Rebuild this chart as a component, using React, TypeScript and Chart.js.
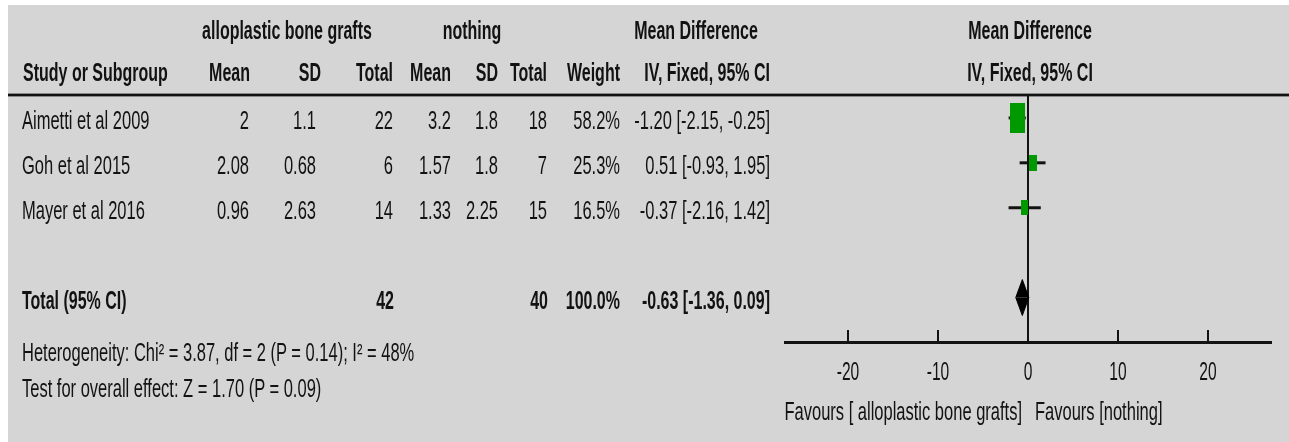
import React, { useEffect, useRef, useState } from "react";
import { Chart, registerables } from "chart.js";

Chart.register(...registerables);

// ---------------- DATA ----------------
const studies = ["Aimetti et al 2009", "Goh et al 2015", "Mayer et al 2016"];
const expMean = ["2", "2.08", "0.96"];
const expSD = ["1.1", "0.68", "2.63"];
const expTotal = [22, 6, 14];
const ctlMean = ["3.2", "1.57", "1.33"];
const ctlSD = ["1.8", "1.8", "2.25"];
const ctlTotal = [18, 7, 15];
const weights = [58.2, 25.3, 16.5];
const meanDiff = [-1.2, 0.51, -0.37];
const ciLow = [-2.15, -0.93, -2.16];
const ciHigh = [-0.25, 1.95, 1.42];

const totalLabel = "Total (95% CI)";
const totalExp = 42;
const totalCtl = 40;
const totalWeight = 100.0;
const totalMD = -0.63;
const totalLow = -1.36;
const totalHigh = 0.09;

const heterogeneityText = "Heterogeneity: Chi\u00b2 = 3.87, df = 2 (P = 0.14); I\u00b2 = 48%";
const overallText = "Test for overall effect: Z = 1.70 (P = 0.09)";

const xTickValues = [-20, -10, 0, 10, 20];
const favoursLeft = "Favours [ alloplastic bone grafts]";
const favoursRight = "Favours [nothing]";

const expGroup = "alloplastic bone grafts";
const ctlGroup = "nothing";

// ---------------- STYLE ----------------
const W = 1289;
const H = 442;
const BG = "#d5d5d5";
const INK = "#121212";
const GREEN = "#009a00";
const FONT = '"Liberation Sans", Arial, Helvetica, sans-serif';
const FS = 25;
const SX_REG = 0.66;
const SX_BOLD = 0.64;
const BOX_W = [15, 8, 7];
const BOX_H = [30, 16, 15];
const DIAMOND_HALF = 0.4;
const TOTAL_ROW = 4;
const TEXT_DY = 2;

const COL = {
  study: 22,
  expMean: 249,
  expSD: 316,
  expTotal: 393,
  ctlMean: 451,
  ctlSD: 498,
  ctlTotal: 547,
  weight: 620,
  md: 770,
};

const fmtCI = (m: number, lo: number, hi: number) =>
  `${m.toFixed(2)} [${lo.toFixed(2)}, ${hi.toFixed(2)}]`;

type Align = "left" | "right" | "center";

function Txt(props: {
  x: number;
  y: number;
  align?: Align;
  bold?: boolean;
  children: React.ReactNode;
}) {
  const { x, y, align = "left", bold = false, children } = props;
  const tx = align === "right" ? "-100%" : align === "center" ? "-50%" : "0";
  const origin =
    align === "right" ? "right center" : align === "center" ? "center center" : "left center";
  return (
    <div
      style={{
        position: "absolute",
        left: x,
        top: y,
        whiteSpace: "nowrap",
        fontFamily: FONT,
        fontSize: FS,
        lineHeight: `${FS}px`,
        fontWeight: bold ? 700 : 400,
        color: INK,
        transform: `translate(${tx}, -50%) scaleX(${bold ? SX_BOLD : SX_REG})`,
        transformOrigin: origin,
      }}
    >
      {children}
    </div>
  );
}

function makeBox(w: number, h: number): HTMLCanvasElement {
  const c = document.createElement("canvas");
  c.width = w;
  c.height = h;
  const g = c.getContext("2d")!;
  g.fillStyle = GREEN;
  g.fillRect(0, 0, w, h);
  return c;
}

const axisPlugin = {
  id: "forestAxis",
  afterDraw(chart: any) {
    const { ctx, chartArea, scales } = chart;
    const x = scales.x;
    const yAxis = chartArea.bottom;
    ctx.save();
    ctx.strokeStyle = INK;
    ctx.lineWidth = 2;
    ctx.fillStyle = INK;
    ctx.font = `26px ${FONT}`;
    ctx.textAlign = "center";
    ctx.textBaseline = "middle";
    x.ticks.forEach((t: any) => {
      const px = x.getPixelForValue(t.value);
      ctx.beginPath();
      ctx.moveTo(px, yAxis - 12);
      ctx.lineTo(px, yAxis);
      ctx.stroke();
      ctx.save();
      ctx.translate(px, yAxis + 31);
      ctx.scale(0.6, 1);
      ctx.fillText(String(t.value), 0, 0);
      ctx.restore();
    });
    ctx.restore();
  },
};

export default function App() {
  const canvasRef = useRef<HTMLCanvasElement | null>(null);
  const [geo, setGeo] = useState<{ rows: number[]; total: number; zero: number } | null>(null);

  useEffect(() => {
    const canvas = canvasRef.current;
    if (!canvas) return;

    const whiskers = studies.map((_, i) => ({
      type: "scatter" as const,
      data: [
        { x: ciLow[i], y: i },
        { x: ciHigh[i], y: i },
      ],
      showLine: true,
      borderColor: INK,
      borderWidth: 3,
      pointRadius: 0,
      order: 2,
    }));

    const boxes = {
      type: "scatter" as const,
      data: meanDiff.map((m, i) => ({ x: m, y: i })),
      pointStyle: studies.map((_, i) => makeBox(BOX_W[i], BOX_H[i])),
      pointRadius: 5,
      order: 0,
    };

    const diamondTop = {
      type: "scatter" as const,
      data: [
        { x: totalLow, y: TOTAL_ROW },
        { x: totalMD, y: TOTAL_ROW - DIAMOND_HALF },
        { x: totalHigh, y: TOTAL_ROW },
      ],
      showLine: true,
      borderColor: "#000",
      borderWidth: 1,
      backgroundColor: "#000",
      fill: { value: TOTAL_ROW },
      pointRadius: 0,
      tension: 0,
      order: 1,
    };
    const diamondBottom = {
      ...diamondTop,
      data: [
        { x: totalLow, y: TOTAL_ROW },
        { x: totalMD, y: TOTAL_ROW + DIAMOND_HALF },
        { x: totalHigh, y: TOTAL_ROW },
      ],
    };

    const chart = new Chart(canvas, {
      type: "scatter",
      data: { datasets: [...whiskers, boxes, diamondTop, diamondBottom] as any },
      options: {
        animation: false,
        responsive: false,
        devicePixelRatio: 1,
        layout: { padding: { left: 785, right: 18, top: 95, bottom: 0 } },
        plugins: { legend: { display: false }, tooltip: { enabled: false } },
        scales: {
          x: {
            type: "linear",
            position: "bottom",
            min: -27,
            max: 27,
            afterFit: (s: any) => {
              s.height = 100;
            },
            afterBuildTicks: (s: any) => {
              s.ticks = xTickValues.map((v) => ({ value: v }));
            },
            border: { display: true, color: INK, width: 3 },
            grid: {
              drawOnChartArea: true,
              drawTicks: false,
              lineWidth: 2,
              color: (c: any) =>
                c.tick && c.tick.value === 0 ? INK : "rgba(0,0,0,0)",
            },
            ticks: { display: false },
          },
          y: {
            type: "linear",
            display: false,
            reverse: true,
            min: -0.51,
            max: 4.99,
          },
        },
      } as any,
      plugins: [axisPlugin],
    });

    const ys = chart.scales.y;
    setGeo({
      rows: studies.map((_, i) => ys.getPixelForValue(i)),
      total: ys.getPixelForValue(TOTAL_ROW),
      zero: chart.scales.x.getPixelForValue(0),
    });

    return () => chart.destroy();
  }, []);

  const hdr1 = 30;
  const hdr2 = 72;

  return (
    <div
      style={{
        position: "absolute",
        left: 0,
        top: 0,
        width: W,
        height: H,
        background: "#fff",
        overflow: "hidden",
      }}
    >
      <div style={{ position: "absolute", left: 8, top: 5, right: 0, bottom: 0, background: BG }} />
      {/* header rule */}
      <div
        style={{
          position: "absolute",
          left: 8,
          right: 0,
          top: 93,
          height: 2,
          background: INK,
          borderTop: "1px solid #8a8a8a",
          borderBottom: "1px solid #8a8a8a",
        }}
      />
      <canvas
        ref={canvasRef}
        width={W}
        height={H}
        style={{ position: "absolute", left: 0, top: 0, width: W, height: H }}
      />

      {/* headers */}
      <Txt x={287} y={hdr1} align="center" bold>{expGroup}</Txt>
      <Txt x={472} y={hdr1} align="center" bold>{ctlGroup}</Txt>
      <Txt x={696} y={hdr1} align="center" bold>Mean Difference</Txt>
      <Txt x={23} y={hdr2} bold>Study or Subgroup</Txt>
      <Txt x={250} y={hdr2} align="right" bold>Mean</Txt>
      <Txt x={321} y={hdr2} align="right" bold>SD</Txt>
      <Txt x={393} y={hdr2} align="right" bold>Total</Txt>
      <Txt x={451} y={hdr2} align="right" bold>Mean</Txt>
      <Txt x={498} y={hdr2} align="right" bold>SD</Txt>
      <Txt x={547} y={hdr2} align="right" bold>Total</Txt>
      <Txt x={620} y={hdr2} align="right" bold>Weight</Txt>
      <Txt x={770} y={hdr2} align="right" bold>IV, Fixed, 95% CI</Txt>
      {geo && (
        <>
          <Txt x={geo.zero + 2} y={hdr1} align="center" bold>Mean Difference</Txt>
          <Txt x={geo.zero + 2} y={hdr2} align="center" bold>IV, Fixed, 95% CI</Txt>
        </>
      )}

      {/* study rows */}
      {geo &&
        studies.map((s, i) => {
          const y = geo.rows[i] + TEXT_DY;
          return (
            <React.Fragment key={s}>
              <Txt x={COL.study} y={y}>{s}</Txt>
              <Txt x={COL.expMean} y={y} align="right">{expMean[i]}</Txt>
              <Txt x={COL.expSD} y={y} align="right">{expSD[i]}</Txt>
              <Txt x={COL.expTotal} y={y} align="right">{expTotal[i]}</Txt>
              <Txt x={COL.ctlMean} y={y} align="right">{ctlMean[i]}</Txt>
              <Txt x={COL.ctlSD} y={y} align="right">{ctlSD[i]}</Txt>
              <Txt x={COL.ctlTotal} y={y} align="right">{ctlTotal[i]}</Txt>
              <Txt x={COL.weight} y={y} align="right">{weights[i].toFixed(1)}%</Txt>
              <Txt x={COL.md} y={y} align="right">{fmtCI(meanDiff[i], ciLow[i], ciHigh[i])}</Txt>
            </React.Fragment>
          );
        })}

      {/* total row */}
      {geo && (
        <>
          <Txt x={COL.study} y={geo.total + TEXT_DY} bold>{totalLabel}</Txt>
          <Txt x={COL.expTotal + 1} y={geo.total + TEXT_DY} align="right" bold>{totalExp}</Txt>
          <Txt x={COL.ctlTotal + 1} y={geo.total + TEXT_DY} align="right" bold>{totalCtl}</Txt>
          <Txt x={COL.weight} y={geo.total + TEXT_DY} align="right" bold>{totalWeight.toFixed(1)}%</Txt>
          <Txt x={COL.md} y={geo.total + TEXT_DY} align="right" bold>{fmtCI(totalMD, totalLow, totalHigh)}</Txt>
        </>
      )}

      <Txt x={COL.study} y={352}>{heterogeneityText}</Txt>
      <Txt x={COL.study} y={388}>{overallText}</Txt>

      {geo && (
        <>
          <Txt x={geo.zero - 6} y={411} align="right">{favoursLeft}</Txt>
          <Txt x={geo.zero + 7} y={411}>{favoursRight}</Txt>
        </>
      )}
    </div>
  );
}
